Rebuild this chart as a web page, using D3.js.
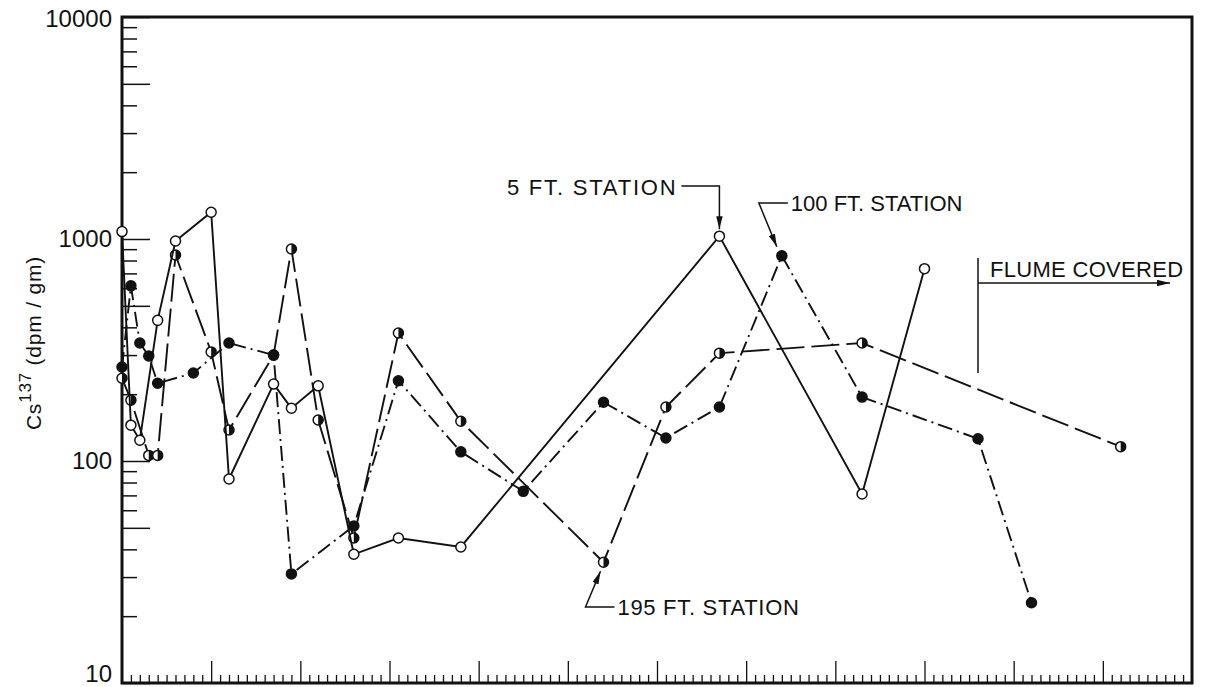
<!DOCTYPE html>
<html lang="en">
  <head>
    <meta charset="UTF-8" />
    <title>Cs137 by station</title>
    <script src="https://cdn.jsdelivr.net/npm/d3@7/dist/d3.min.js"></script>
    <style>
      body {
        margin: 0;
        padding: 0;
        background: #fff;
      }
      text {
        font-family: "Liberation Sans", Arial, sans-serif;
        fill: #111;
      }
    </style>
  </head>
  <body>
    <svg id="chart"></svg>

    <script>
      // sampling times (x units, one minor tick each) and Cs137 values
      const st5X = [0, 1, 2, 4, 6, 10, 12, 17, 19, 22, 26, 31, 38, 67, 83, 90];
      const st5Y = [1080, 145, 124, 430, 980, 1320, 83, 222, 173, 218, 38, 45, 41, 1030, 71, 735];

      const st100X = [0, 1, 2, 3, 4, 8, 12, 17, 19, 26, 31, 38, 45, 54, 61, 67, 74, 83, 96, 102];
      const st100Y = [265, 615, 340, 297, 224, 249, 340, 300, 31, 51, 230, 110, 73, 184, 127, 175, 840, 194, 126, 23];

      const st195X = [0, 1, 3, 4, 6, 10, 12, 17, 19, 22, 26, 31, 38, 54, 61, 67, 83, 112];
      const st195Y = [236, 188, 106, 106, 847, 310, 138, 300, 902, 153, 45, 377, 151, 35, 175, 306, 340, 116];

      const yLabels = [10, 100, 1000, 10000];

      const width = 1208;
      const height = 687;
      const mLeft = 122,
        mRight = 1192,
        mTop = 17,
        mBottom = 683;

      const svg = d3.select("#chart").attr("width", width).attr("height", height);

      const x = d3.scaleLinear().domain([0, 120]).range([mLeft, mRight]);
      const y = d3.scaleLog().domain([10, 10000]).range([mBottom, mTop]);

      // arrow head
      svg
        .append("defs")
        .append("marker")
        .attr("id", "arr")
        .attr("viewBox", "0 0 12 6")
        .attr("refX", 12)
        .attr("refY", 3)
        .attr("markerWidth", 13)
        .attr("markerHeight", 6.5)
        .attr("markerUnits", "userSpaceOnUse")
        .attr("orient", "auto")
        .append("path")
        .attr("d", "M0,0 L12,3 L0,6 Z")
        .attr("fill", "#111");

      // x axis: ticks inside, long every 10
      const xAxis = svg
        .append("g")
        .attr("transform", `translate(0,${mBottom})`)
        .call(d3.axisBottom(x).tickValues(d3.range(1, 120)).tickSize(0).tickFormat(""));
      xAxis.select(".domain").remove();
      xAxis
        .selectAll(".tick line")
        .attr("y2", (d) => (d % 10 == 0 ? -22 : -8))
        .attr("stroke", "#111")
        .attr("stroke-width", 1.3);

      // y axis: log ticks inside
      let yTicks = [];
      [10, 100, 1000].forEach((p) => {
        for (let k = 1; k < 10; k++) yTicks.push(p * k);
      });
      yTicks.push(10000);
      const yAxis = svg
        .append("g")
        .attr("transform", `translate(${mLeft},0)`)
        .call(
          d3
            .axisLeft(y)
            .tickValues(yTicks)
            .tickSize(0)
            .tickPadding(10)
            .tickFormat((d) => (yLabels.includes(d) ? d : ""))
        );
      yAxis.select(".domain").remove();
      yAxis
        .selectAll(".tick line")
        .attr("x2", (d) => {
          const m = Math.round(d / Math.pow(10, Math.floor(Math.log10(d) + 1e-9)));
          return m == 1 || m == 5 ? 28 : 15;
        })
        .attr("stroke", "#111")
        .attr("stroke-width", 1.5);
      yAxis
        .selectAll(".tick text")
        .attr("font-size", 24)
        .attr("font-family", "Liberation Sans, Arial, sans-serif")
        .attr("fill", "#111")
        .attr("dy", (d) => (d == 10 ? "-0.05em" : d == 10000 ? "0.4em" : "0.32em"));

      // frame
      svg
        .append("rect")
        .attr("x", mLeft)
        .attr("y", mTop)
        .attr("width", mRight - mLeft)
        .attr("height", mBottom - mTop)
        .attr("fill", "none")
        .attr("stroke", "#111")
        .attr("stroke-width", 3);

      // y label
      const yl = svg
        .append("text")
        .attr("transform", "translate(41,343) rotate(-90)")
        .attr("text-anchor", "middle")
        .attr("font-size", 21)
        .attr("letter-spacing", 0.8);
      yl.append("tspan").text("Cs");
      yl.append("tspan").attr("font-size", 17).attr("dy", -10).text("137");
      yl.append("tspan").attr("dy", 10).text(" (dpm / gm)");

      const line = d3
        .line()
        .x((d) => x(d[0]))
        .y((d) => y(d[1]));

      const series = [
        { xs: st195X, ys: st195Y, dash: "28,7", mark: "half" },
        { xs: st100X, ys: st100Y, dash: "15,5,2,5", mark: "full" },
        { xs: st5X, ys: st5Y, dash: null, mark: "open" },
      ];

      series.forEach((s) => {
        const pts = s.xs.map((v, i) => [v, s.ys[i]]);
        svg
          .append("path")
          .datum(pts)
          .attr("d", line)
          .attr("fill", "none")
          .attr("stroke", "#111")
          .attr("stroke-width", 1.9)
          .attr("stroke-dasharray", s.dash);

        const g = svg
          .append("g")
          .selectAll("g")
          .data(pts)
          .enter()
          .append("g")
          .attr("transform", (d) => `translate(${x(d[0])},${y(d[1])})`);
        const r = 5;
        g.append("circle")
          .attr("r", r)
          .attr("fill", s.mark == "full" ? "#111" : "#fff")
          .attr("stroke", "#111")
          .attr("stroke-width", 1.5);
        if (s.mark == "half") {
          g.append("path")
            .attr("d", `M0,${-r} A${r},${r} 0 0 1 0,${r} Z`)
            .attr("fill", "#111");
        }
      });

      // annotations
      function note(txt, tx, ty, anchor, spacing, d) {
        svg
          .append("text")
          .attr("x", tx)
          .attr("y", ty)
          .attr("text-anchor", anchor)
          .attr("font-size", 22)
          .attr("letter-spacing", spacing)
          .text(txt);
        svg
          .append("path")
          .attr("d", d)
          .attr("fill", "none")
          .attr("stroke", "#111")
          .attr("stroke-width", 1.5)
          .attr("marker-end", "url(#arr)");
      }

      const p5 = [x(67), y(1030)];
      note("5 FT. STATION", p5[0] - 42, 195, "end", 1.8, `M${p5[0] - 38},186 H${p5[0]} V${p5[1] - 7}`);

      const p100 = [x(74), y(840)];
      note(
        "100 FT. STATION",
        p100[0] + 9,
        211,
        "start",
        0,
        `M${p100[0] + 6},203 H${p100[0] - 23} L${p100[0] - 5},${p100[1] - 9}`
      );

      const p195 = [x(54), y(35)];
      note(
        "195 FT. STATION",
        p195[0] + 14,
        615,
        "start",
        0.7,
        `M${p195[0] + 11},607 H${p195[0] - 18} L${p195[0] - 3},${p195[1] + 9}`
      );

      // flume covered marker
      svg
        .append("line")
        .attr("x1", 978)
        .attr("x2", 978)
        .attr("y1", 258)
        .attr("y2", 373)
        .attr("stroke", "#111")
        .attr("stroke-width", 1.5);
      note("FLUME COVERED", 990, 277, "start", 0.3, "M978,283 H1170");
    </script>
  </body>
</html>
